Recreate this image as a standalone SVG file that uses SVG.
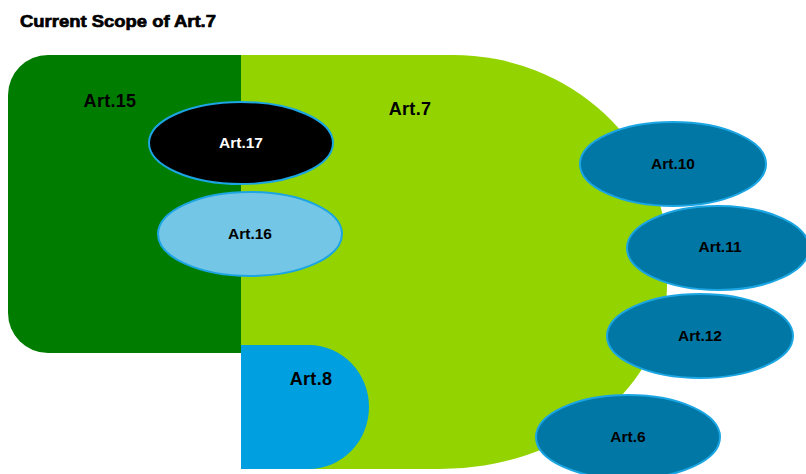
<svg xmlns="http://www.w3.org/2000/svg" width="806" height="474" viewBox="0 0 806 474">
<style>
text{font-family:"Liberation Sans",Arial,sans-serif;font-weight:bold;text-anchor:middle;dominant-baseline:central}
.lbl{font-size:18px;fill:#000;letter-spacing:0.3px}
.sm{font-size:15.5px;fill:#000}
.ell{stroke:#1BA5E2;stroke-width:2}
.dark{fill:#0077A5}
</style>
<rect width="806" height="474" fill="#fff"/>
<text x="20" y="21" style="text-anchor:start;font-size:17px" fill="#000" stroke="#000" stroke-width="0.7" textLength="196" lengthAdjust="spacingAndGlyphs">Current Scope of Art.7</text>
<g id="art15">
<path d="M241,55 V353 H48 A40 40 0 0 1 8,313 V95 A40 40 0 0 1 48,55 Z" fill="#007D00"/>
<text class="lbl" x="110" y="101">Art.15</text>
</g>
<g id="art7">
<path d="M241,55 H453 A214 200 0 0 1 667,255 V285 A227 184 0 0 1 440,469 H241 Z" fill="#93D400"/>
<text class="lbl" x="410" y="109">Art.7</text>
</g>
<g id="art8">
<path d="M241,345 H309 A60 62 0 0 1 309,469 H241 Z" fill="#009FDF"/>
<text class="lbl" x="311" y="379">Art.8</text>
</g>
<g id="art17">
<ellipse class="ell" cx="241" cy="143" rx="92" ry="41" fill="#000"/>
<text class="sm" x="241" y="142" style="fill:#fff">Art.17</text>
</g>
<g id="art16">
<ellipse class="ell" cx="250" cy="234" rx="92" ry="42" fill="#73C6E6"/>
<text class="sm" x="250" y="233">Art.16</text>
</g>
<g id="art10">
<ellipse class="ell dark" cx="673" cy="164" rx="93" ry="42"/>
<text class="sm" x="673" y="163">Art.10</text>
</g>
<g id="art11">
<ellipse class="ell dark" cx="718" cy="248" rx="91" ry="42"/>
<text class="sm" x="720" y="246">Art.11</text>
</g>
<g id="art12">
<ellipse class="ell dark" cx="700" cy="336" rx="93" ry="42"/>
<text class="sm" x="700" y="335">Art.12</text>
</g>
<g id="art6">
<ellipse class="ell dark" cx="628" cy="437" rx="92" ry="42"/>
<text class="sm" x="628" y="436">Art.6</text>
</g>
<g id="connectors"></g>
</svg>
